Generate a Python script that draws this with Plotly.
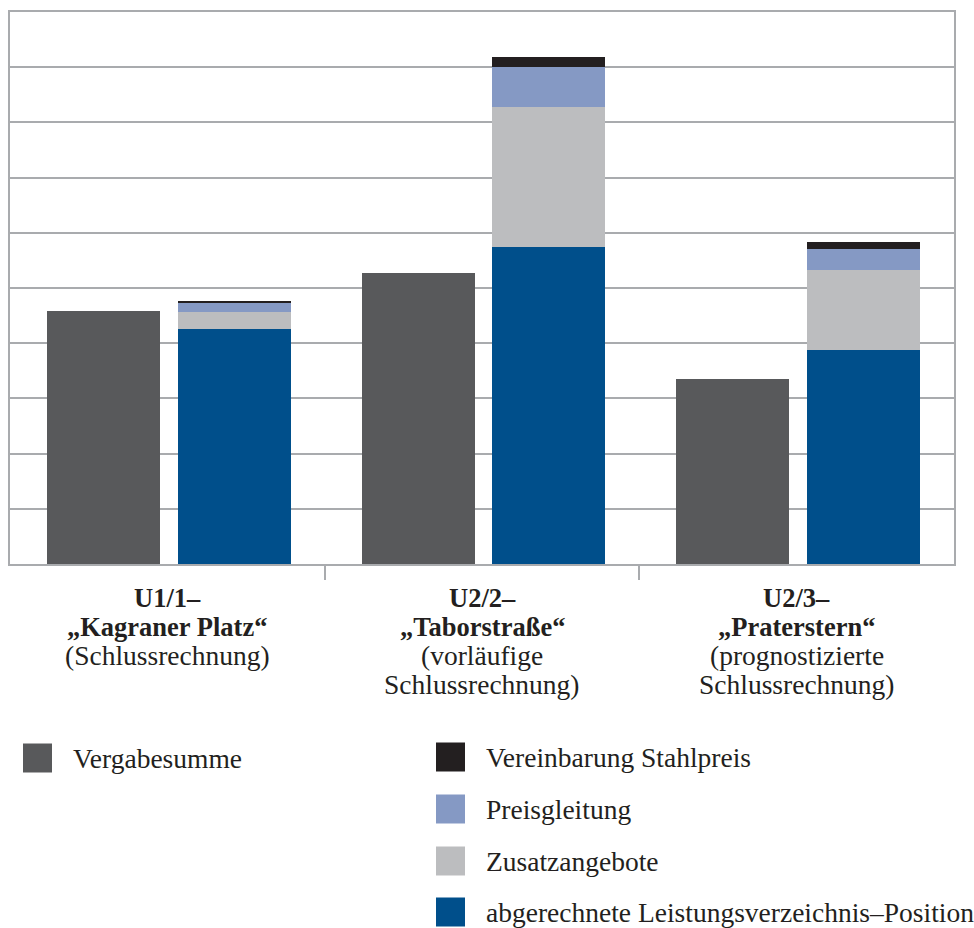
import plotly.graph_objects as go

# Projects (one group of two bars each) and their label lines
label_lines = [
    ["U1/1–", "„Kagraner Platz“", "(Schlussrechnung)"],
    ["U2/2–", "„Taborstraße“", "(vorläufige", "Schlussrechnung)"],
    ["U2/3–", "„Praterstern“", "(prognostizierte", "Schlussrechnung)"],
]
bold_lines = 2  # first two lines of each label are bold

# Values (one gridline step = 1 unit)
vergabesumme = [4.59, 5.28, 3.35]
lv_position = [4.26, 5.74, 3.88]
zusatzangebote = [0.30, 2.54, 1.44]
preisgleitung = [0.16, 0.72, 0.39]
stahlpreis = [0.05, 0.19, 0.13]

names = {
    "verg": "Vergabesumme",
    "lv": "abgerechnete Leistungsverzeichnis–Position",
    "zus": "Zusatzangebote",
    "preis": "Preisgleitung",
    "stahl": "Vereinbarung Stahlpreis",
}
colors = {
    "verg": "#58595b",
    "lv": "#004f8b",
    "zus": "#bcbdbf",
    "preis": "#8599c4",
    "stahl": "#231f20",
}

FONT = "Liberation Serif"
TEXT = "#231f20"
GRID = "#a9abae"

W, H = 974, 928
ML, MR, MT, MB = 10, 20, 12, 364
PW, PH = W - ML - MR, H - MT - MB


def px(x):
    return (x - ML) / PW


def py(y):
    return (H - MB - y) / PH


n = len(label_lines)
x_left = [i - 0.203 for i in range(n)]
x_right = [i + 0.212 for i in range(n)]
bar_w = 0.359

fig = go.Figure()
fig.add_bar(x=x_left, y=vergabesumme, width=bar_w, name=names["verg"],
            marker=dict(color=colors["verg"], line=dict(width=0)))
for key, vals in [("lv", lv_position), ("zus", zusatzangebote),
                  ("preis", preisgleitung), ("stahl", stahlpreis)]:
    fig.add_bar(x=x_right, y=vals, width=bar_w, name=names[key],
                marker=dict(color=colors[key], line=dict(width=0)))

annotations = []
# Category labels under the x axis
line_y = [597.5, 626.5, 655.5, 684.5]
for i, lines in enumerate(label_lines):
    for j, txt in enumerate(lines):
        annotations.append(dict(
            x=i, xref="x", y=py(line_y[j]), yref="paper",
            text=f"<b>{txt}</b>" if j < bold_lines else txt,
            showarrow=False, xanchor="center", yanchor="middle",
            font=dict(family=FONT, size=26.5 if j < bold_lines else 27.5,
                      color=TEXT),
        ))

# Legend drawn as swatches with labels
shapes = []
legend_items = [
    ("verg", 23, 758),
    ("stahl", 436, 757),
    ("preis", 436, 809),
    ("zus", 436, 861),
    ("lv", 436, 912),
]
for key, sx, cy in legend_items:
    shapes.append(dict(
        type="rect", xref="paper", yref="paper",
        x0=px(sx), x1=px(sx + 29), y0=py(cy + 14.5), y1=py(cy - 14.5),
        fillcolor=colors[key], line=dict(width=0),
    ))
    annotations.append(dict(
        x=px(sx + 48), xref="paper", y=py(cy), yref="paper",
        text=names[key], showarrow=False, xanchor="left", yanchor="middle",
        font=dict(family=FONT, size=27.5, color=TEXT),
    ))

fig.update_layout(
    width=W, height=H,
    margin=dict(l=ML, r=MR, t=MT, b=MB, pad=0),
    barmode="stack",
    showlegend=False,
    plot_bgcolor="white", paper_bgcolor="white",
    annotations=annotations,
    shapes=shapes,
    font=dict(family=FONT, color=TEXT),
)
fig.update_xaxes(
    range=[-0.5, n - 0.5],
    tickvals=[i + 0.5 for i in range(n - 1)], ticktext=[""] * (n - 1),
    ticks="outside", ticklen=14, tickwidth=1.5, tickcolor=GRID,
    showgrid=False, zeroline=False,
    showline=True, linecolor=GRID, linewidth=1.5, mirror=True,
)
fig.update_yaxes(
    range=[0, 10], dtick=1, showticklabels=False, ticks="",
    showgrid=True, gridcolor=GRID, gridwidth=1.5, zeroline=False,
    showline=True, linecolor=GRID, linewidth=1.5, mirror=True,
)

fig.write_html("out.html")
